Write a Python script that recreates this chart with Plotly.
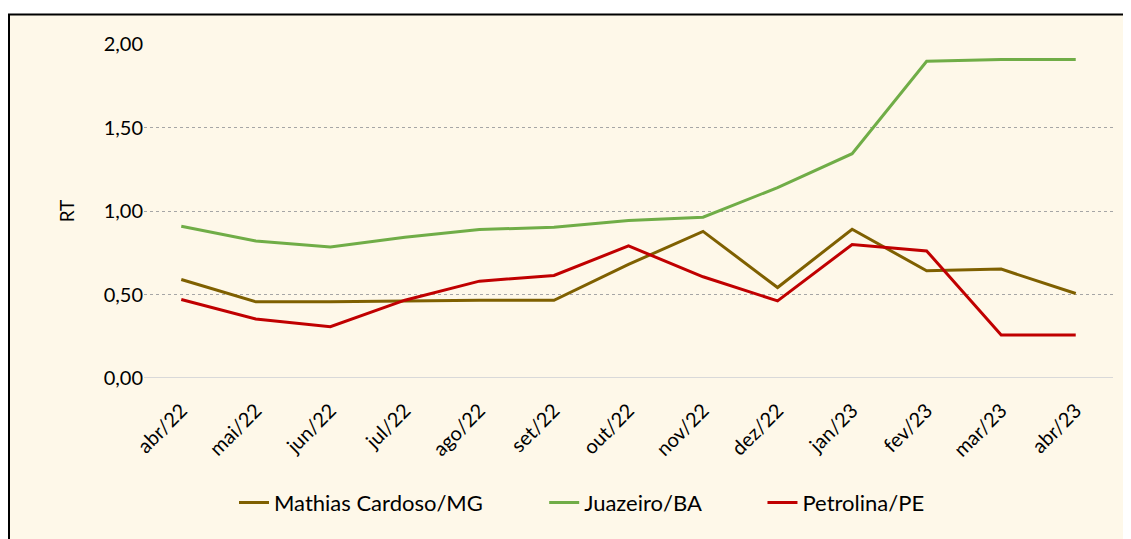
import plotly.graph_objects as go

months = ["abr/22", "mai/22", "jun/22", "jul/22", "ago/22", "set/22", "out/22",
          "nov/22", "dez/22", "jan/23", "fev/23", "mar/23", "abr/23"]
mathias = [0.59, 0.456, 0.457, 0.462, 0.465, 0.465, 0.68, 0.878, 0.542, 0.891, 0.642, 0.652, 0.506]
juazeiro = [0.909, 0.821, 0.785, 0.843, 0.889, 0.903, 0.943, 0.963, 1.140, 1.343, 1.897, 1.907, 1.907]
petrolina = [0.470, 0.353, 0.307, 0.466, 0.580, 0.614, 0.791, 0.606, 0.462, 0.799, 0.761, 0.257, 0.257]
yticks = [0, 0.5, 1.0, 1.5, 2.0]
ytick_text = ["0,00", "0,50", "1,00", "1,50", "2,00"]
names = ["Mathias Cardoso/MG", "Juazeiro/BA", "Petrolina/PE"]
colors = ["#7F6000", "#70AD47", "#C00000"]

fig = go.Figure()
GAP = "\u00a0" * 10
for i, (name, vals, col) in enumerate(zip(names, [mathias, juazeiro, petrolina], colors)):
    label = name + (GAP if i < len(names) - 1 else "")
    fig.add_trace(go.Scatter(x=months, y=vals, mode="lines", name=label,
                             line=dict(color=col, width=3)))

FONT = "Lato"
OFF = 8  # page body offset
W, H = 1131, 539
L, R, T, B = 144 - OFF, W - (1113 - OFF), 43.5 - OFF, H - (378 - OFF)
pw = W - L - R
ph = H - T - B
base = H - B  # y pixel of zero line in figure coords

fig.add_shape(type="rect", xref="paper", yref="paper",
              x0=(1 - L) / pw, x1=(W + 20 - L) / pw,
              y0=-(H + 20 - base) / ph, y1=(base - (14 - OFF)) / ph,
              fillcolor="#FEF8E9", line=dict(color="#000000", width=2), layer="below")

fig.update_layout(
    width=W, height=H,
    margin=dict(l=L, r=R, t=T, b=B),
    paper_bgcolor="#FFFFFF",
    plot_bgcolor="rgba(0,0,0,0)",
    font=dict(family=FONT, size=20, color="#000000"),
    showlegend=True,
    legend=dict(orientation="h", x=(582 - OFF - L) / pw, xanchor="center",
                y=-(503 - OFF - base) / ph, yanchor="middle",
                font=dict(family=FONT, size=22, color="#000000"),
                bgcolor="rgba(0,0,0,0)", itemwidth=30),
    xaxis=dict(type="category", range=[-0.5, 12.5], tickangle=-45,
               showgrid=False, showline=False, ticks="", zeroline=False,
               ticklabelstandoff=16,
               tickfont=dict(family=FONT, size=20)),
    yaxis=dict(range=[0, 2.0], tickvals=yticks, ticktext=ytick_text,
               showgrid=True, gridcolor="#A6A6A6", griddash="dot", gridwidth=1,
               zeroline=False, showline=False, ticks="", ticklen=0,
               tickfont=dict(family=FONT, size=20),
               title=dict(text="RT", font=dict(family=FONT, size=19), standoff=24)),
)
fig.add_shape(type="line", xref="paper", yref="y", x0=0, x1=1, y0=0, y1=0,
              line=dict(color="#D9D9D9", width=2), layer="below")

fig.write_html("out.html")
